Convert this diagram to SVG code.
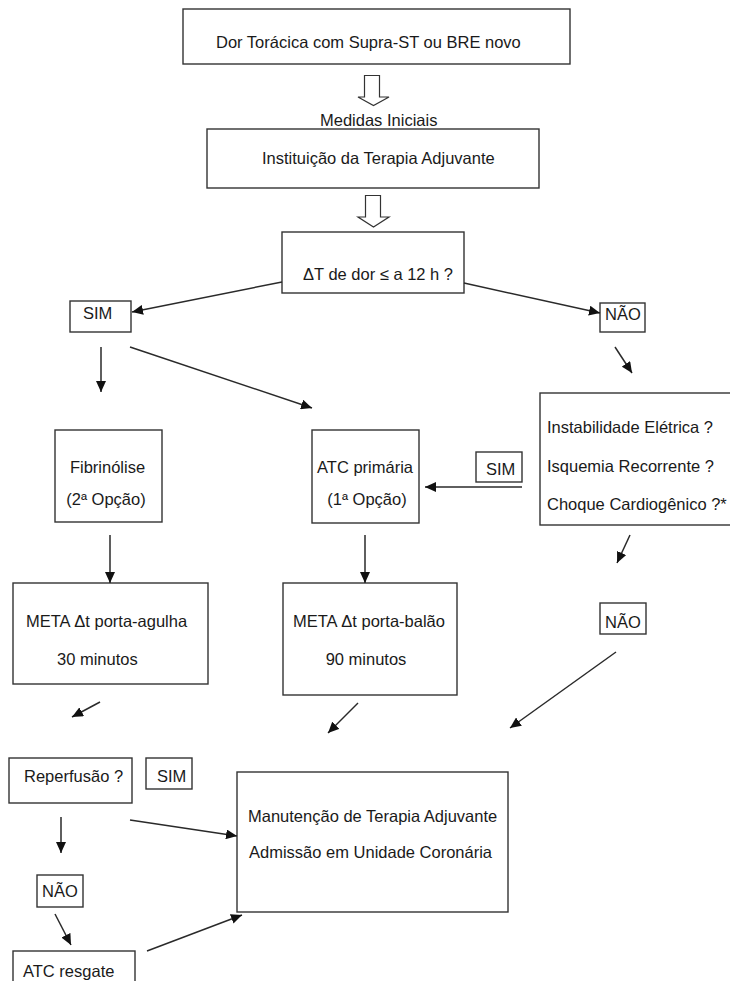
<svg xmlns="http://www.w3.org/2000/svg" width="730" height="981" viewBox="0 0 730 981">
  <style>
    .box { fill: #ffffff; stroke: #333333; stroke-width: 1.4; }
    .hollow { fill: #ffffff; stroke: #333333; stroke-width: 1.2; stroke-linejoin: miter; }
    .t { font-family: "Liberation Sans", Arial, sans-serif; font-size: 16.5px; fill: #1a1a1a; }
    .c { text-anchor: middle; }
    .ln { stroke: #2a2a2a; stroke-width: 1.5; fill: none; marker-end: url(#ah); }
  </style>
  <defs>
    <marker id="ah" markerUnits="userSpaceOnUse" markerWidth="12" markerHeight="10" refX="11" refY="5" orient="auto">
      <path d="M0,0 L11,5 L0,10 Z" fill="#111111"/>
    </marker>
  </defs>
  <rect width="730" height="981" fill="#ffffff"/>

  <g id="inicio">
    <rect class="box" x="183" y="9" width="387" height="55"/>
    <text class="t" x="216" y="48">Dor Torácica com Supra-ST ou BRE novo</text>
  </g>

  <g id="seta-medidas">
    <path class="hollow" d="M364.5,75.5 H379.5 V97 H389 L373.5,105.5 L358,97 H364.5 Z"/>
    <text class="t" x="320" y="126">Medidas Iniciais</text>
  </g>

  <g id="terapia-adjuvante">
    <rect class="box" x="207" y="129" width="332" height="59"/>
    <text class="t" x="262" y="164">Instituição da Terapia Adjuvante</text>
  </g>

  <g id="seta-delta">
    <path class="hollow" d="M365.5,195.5 H380.5 V217 H389 L373.5,227 L358,217 H365.5 Z"/>
  </g>

  <g id="delta-t">
    <rect class="box" x="282" y="232" width="182" height="61"/>
    <text class="t" x="303" y="280">ΔT de dor ≤ a 12 h ?</text>
  </g>

  <g id="sim-1">
    <rect class="box" x="70" y="301" width="61" height="31"/>
    <text class="t" x="83" y="319">SIM</text>
  </g>

  <g id="nao-1">
    <rect class="box" x="600" y="303" width="45" height="29"/>
    <text class="t" x="605" y="320">NÃO</text>
  </g>

  <g id="instabilidade">
    <rect class="box" x="540" y="393" width="200" height="132"/>
    <text class="t" x="547" y="433">Instabilidade Elétrica ?</text>
    <text class="t" x="547" y="472">Isquemia Recorrente ?</text>
    <text class="t" x="547" y="510">Choque Cardiogênico ?*</text>
  </g>

  <g id="sim-2">
    <rect class="box" x="476" y="452" width="46" height="30"/>
    <text class="t" x="486" y="475">SIM</text>
  </g>

  <g id="fibrinolise">
    <rect class="box" x="55" y="430" width="107" height="92"/>
    <text class="t c" x="107.5" y="473">Fibrinólise</text>
    <text class="t c" x="106" y="505">(2ª Opção)</text>
  </g>

  <g id="atc-primaria">
    <rect class="box" x="312" y="430" width="107" height="93"/>
    <text class="t c" x="365" y="473">ATC primária</text>
    <text class="t c" x="367" y="505">(1ª Opção)</text>
  </g>

  <g id="meta-agulha">
    <rect class="box" x="13" y="583" width="195" height="101"/>
    <text class="t" x="26" y="627">META Δt porta-agulha</text>
    <text class="t" x="57" y="665">30 minutos</text>
  </g>

  <g id="meta-balao">
    <rect class="box" x="283" y="583" width="174" height="112"/>
    <text class="t c" x="369" y="627">META Δt porta-balão</text>
    <text class="t c" x="366" y="665">90 minutos</text>
  </g>

  <g id="nao-2">
    <rect class="box" x="600" y="603" width="46" height="31"/>
    <text class="t" x="605" y="628">NÃO</text>
  </g>

  <g id="reperfusao">
    <rect class="box" x="9" y="758" width="123" height="45"/>
    <text class="t" x="24" y="782">Reperfusão ?</text>
  </g>

  <g id="sim-3">
    <rect class="box" x="146" y="758" width="46" height="31"/>
    <text class="t" x="157" y="782">SIM</text>
  </g>

  <g id="nao-3">
    <rect class="box" x="37" y="875" width="46" height="32"/>
    <text class="t" x="42" y="897">NÃO</text>
  </g>

  <g id="atc-resgate">
    <rect class="box" x="13" y="951" width="122" height="45"/>
    <text class="t" x="23" y="977">ATC resgate</text>
  </g>

  <g id="manutencao">
    <rect class="box" x="237" y="772" width="271" height="140"/>
    <text class="t" x="248" y="822">Manutenção de Terapia Adjuvante</text>
    <text class="t" x="249" y="858">Admissão em Unidade Coronária</text>
  </g>

  <g id="conectores">
    <line class="ln" x1="282" y1="282" x2="132" y2="312"/>
    <line class="ln" x1="464" y1="283" x2="600" y2="313"/>
    <line class="ln" x1="101" y1="347" x2="101" y2="392"/>
    <line class="ln" x1="130" y1="347" x2="312" y2="408"/>
    <line class="ln" x1="615" y1="347" x2="632" y2="373"/>
    <line class="ln" x1="522" y1="487" x2="425" y2="487"/>
    <line class="ln" x1="630" y1="535" x2="617" y2="563"/>
    <line class="ln" x1="110" y1="535" x2="110" y2="583"/>
    <line class="ln" x1="365" y1="535" x2="365" y2="583"/>
    <line class="ln" x1="100" y1="702" x2="72" y2="717"/>
    <line class="ln" x1="358" y1="703" x2="328" y2="733"/>
    <line class="ln" x1="616" y1="652" x2="510" y2="728"/>
    <line class="ln" x1="130" y1="820" x2="237" y2="836"/>
    <line class="ln" x1="61" y1="817" x2="61" y2="853"/>
    <line class="ln" x1="55" y1="914" x2="71" y2="945"/>
    <line class="ln" x1="147" y1="951" x2="242" y2="915"/>
  </g>
</svg>
